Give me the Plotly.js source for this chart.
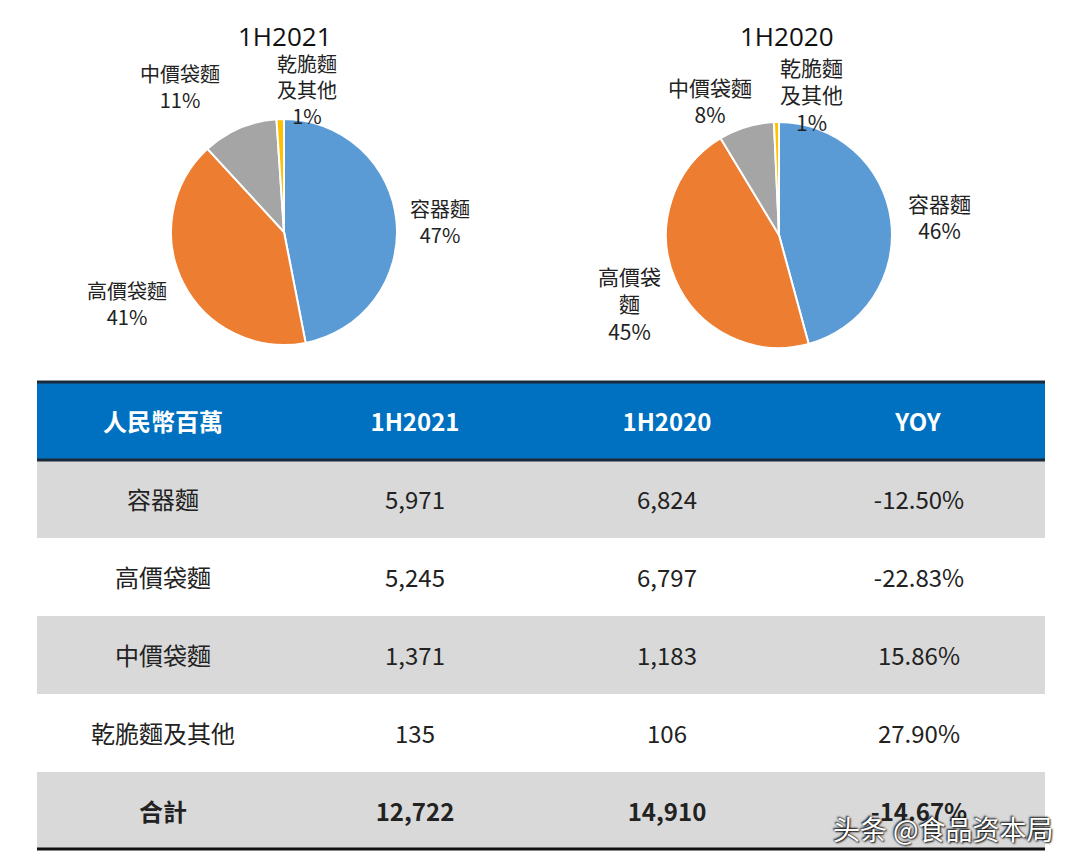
<!DOCTYPE html>
<html>
<head>
<meta charset="utf-8">
<script src="https://cdn.plot.ly/plotly-3.0.1.min.js"></script>
<style>html,body{margin:0;padding:0;background:#fff;}#chart{width:1080px;height:866px;}</style>
</head>
<body>
<div id="chart"></div>
<script>
// ---- data ----
const categories = ['容器麵', '高價袋麵', '中價袋麵', '乾脆麵及其他'];
const pieLabels2021 = ['容器麵', '高價袋麵', '中價袋麵', '乾脆麵<br>及其他'];
const pieLabels2020 = ['容器麵', '高價袋<br>麵', '中價袋麵', '乾脆麵<br>及其他'];
const values2021 = [5971, 5245, 1371, 135];
const values2020 = [6824, 6797, 1183, 106];
const pctLabels2021 = [47, 41, 11, 1];
const pctLabels2020 = [46, 45, 8, 1];
const total2021 = 12722;
const total2020 = 14910;
const yoy = [-12.50, -22.83, 15.86, 27.90];
const yoyTotal = -14.67;
const headerLabels = ['人民幣百萬', '1H2021', '1H2020', 'YOY'];
const totalLabel = '合計';
const pieTitles = ['1H2021', '1H2020'];
const sliceColors = ['#5B9BD5', '#ED7D31', '#A5A5A5', '#FFC000'];

// ---- layout constants (pixels) ----
const W = 1080, H = 866;
const cjk = '"Noto Sans CJK TC", "Noto Sans CJK SC", "Noto Sans", sans-serif';
const narrow = '"Liberation Sans Narrow", "Noto Sans CJK TC", "Roboto", sans-serif';
// label anchor positions (pixel centre x, centre y of text block)
const labelPos2021 = [[440, 221], [127, 304], [180, 87], [307, 89]];
const labelPos2020 = [[939, 216], [629, 303], [710, 101], [811, 94]];
const textShift = 13; // vertical offset of the text layer of the table

function fmt(n) { return n.toLocaleString('en-US'); }
function pct(n) { return n.toFixed(2) + '%'; }

function pie(values, domX, domY) {
  return {
    type: 'pie',
    values: values,
    labels: categories,
    sort: false,
    direction: 'clockwise',
    rotation: 0,
    textinfo: 'none',
    hoverinfo: 'label+value+percent',
    marker: { colors: sliceColors, line: { color: '#ffffff', width: 2 } },
    domain: { x: domX, y: domY },
    showlegend: false
  };
}

const px = (a, b) => [a / W, b / W];
const py = (top, bottom) => [1 - bottom / H, 1 - top / H];

const sp = '<br>';
const col1 = categories.map(c => sp + c).concat([sp + '<b>' + totalLabel + '</b>']);
const col2 = values2021.map(v => sp + fmt(v)).concat([sp + '<b>' + fmt(total2021) + '</b>']);
const col3 = values2020.map(v => sp + fmt(v)).concat([sp + '<b>' + fmt(total2020) + '</b>']);
const col4 = yoy.map(v => sp + pct(v)).concat([sp + '<b>' + pct(yoyTotal) + '</b>']);
const rowFill = ['#D9D9D9', '#FFFFFF', '#D9D9D9', '#FFFFFF', '#D9D9D9'];
const blank = col1.map(() => '');
const clear = 'rgba(0,0,0,0)';

// background layer: header and row fills
const tableFill = {
  type: 'table',
  domain: { x: px(37, 1045), y: py(382, 850) },
  columnwidth: [1, 1, 1, 1],
  header: {
    values: headerLabels.map(() => ''),
    height: 78,
    fill: { color: '#0070C0' },
    line: { color: '#0070C0', width: 0 },
    font: { size: 24 }
  },
  cells: {
    values: [blank, blank, blank, blank],
    height: 78,
    fill: { color: [rowFill, rowFill, rowFill, rowFill] },
    line: { color: [rowFill, rowFill, rowFill, rowFill], width: 0 },
    font: { size: 24 }
  }
};

// text layer: same table, transparent, centred vertically in the rows
const tableText = {
  type: 'table',
  domain: { x: px(37, 1045), y: py(382 + textShift, 850 + textShift) },
  columnwidth: [1, 1, 1, 1],
  header: {
    values: headerLabels.map(h => sp + '<b>' + h + '</b>'),
    align: 'center',
    height: 78,
    fill: { color: clear },
    line: { color: clear, width: 0 },
    font: { family: narrow, size: 24, color: '#ffffff' }
  },
  cells: {
    values: [col1, col2, col3, col4],
    align: 'center',
    height: 78,
    fill: { color: clear },
    line: { color: clear, width: 0 },
    font: { family: narrow, size: 24, color: '#222222' }
  }
};

const data = [
  pie(values2021, px(171, 397), py(119, 345)),
  pie(values2020, px(666, 892), py(122, 348)),
  tableFill,
  tableText
];

const annotations = [];
function addLabels(names, pcts, pos, fs) {
  names.forEach((n, i) => {
    annotations.push({
      text: n + '<br>' + pcts[i] + '%',
      x: pos[i][0] / W, y: 1 - pos[i][1] / H, xref: 'paper', yref: 'paper',
      xanchor: 'center', yanchor: 'middle', showarrow: false, align: 'center',
      font: { family: cjk, size: fs, color: '#222' }
    });
  });
}
addLabels(pieLabels2021, pctLabels2021, labelPos2021, 20);
addLabels(pieLabels2020, pctLabels2020, labelPos2020, 21);

annotations.push(
  { text: pieTitles[0], x: 285 / W, y: 1 - 36 / H, xref: 'paper', yref: 'paper', xanchor: 'center', yanchor: 'middle', showarrow: false,
    font: { family: '"Open Sans", "Noto Sans", sans-serif', size: 26, color: '#111' } },
  { text: pieTitles[1], x: 787 / W, y: 1 - 36 / H, xref: 'paper', yref: 'paper', xanchor: 'center', yanchor: 'middle', showarrow: false,
    font: { family: '"Open Sans", "Noto Sans", sans-serif', size: 26, color: '#111' } },
  { text: '头条 @食品资本局', x: 1056 / W, y: 1 - 828 / H, xref: 'paper', yref: 'paper', xanchor: 'right', yanchor: 'middle',
    showarrow: false,
    font: { family: '"Noto Sans CJK SC", sans-serif', size: 27, color: '#ffffff', shadow: '1px 1px 2px #000, -1px -1px 2px #000' } }
);

const layout = {
  width: W, height: H,
  margin: { l: 0, r: 0, t: 0, b: 0 },
  paper_bgcolor: '#ffffff',
  annotations: annotations,
  shapes: [
    { type: 'line', xref: 'paper', yref: 'paper', x0: 37 / W, x1: 1045 / W, y0: 1 - 382 / H, y1: 1 - 382 / H, line: { color: '#1a2a3a', width: 3 } },
    { type: 'line', xref: 'paper', yref: 'paper', x0: 37 / W, x1: 1045 / W, y0: 1 - 460 / H, y1: 1 - 460 / H, line: { color: '#1a2a3a', width: 3 } },
    { type: 'line', xref: 'paper', yref: 'paper', x0: 37 / W, x1: 1045 / W, y0: 1 - 849 / H, y1: 1 - 849 / H, line: { color: '#111', width: 3 } }
  ]
};

Plotly.newPlot('chart', data, layout, { displayModeBar: false, staticPlot: true });
</script>
</body>
</html>
